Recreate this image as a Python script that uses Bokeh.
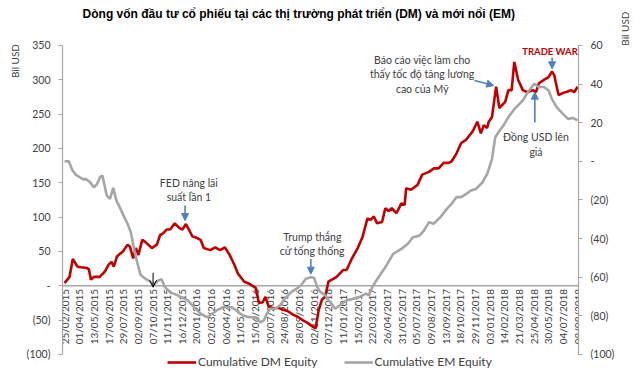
import math
from bokeh.plotting import figure
from bokeh.models import (Range1d, LinearAxis, FixedTicker, Legend, LegendItem,
                          Label, Arrow, NormalHead, OpenHead, Span, ColumnDataSource)
from bokeh.embed import file_html
from bokeh.resources import INLINE
from bokeh.core.properties import value

# ---------------- data ----------------
date_labels = ["25/02/2015", "01/04/2015", "13/05/2015", "17/06/2015", "29/07/2015",
               "02/09/2015", "07/10/2015", "11/11/2015", "16/12/2015", "20/01/2016",
               "02/03/2016", "06/04/2016", "11/05/2016", "15/06/2016", "20/07/2016",
               "24/08/2016", "28/09/2016", "02/11/2016", "07/12/2016", "11/01/2017",
               "15/02/2017", "22/03/2017", "26/04/2017", "31/05/2017", "05/07/2017",
               "09/08/2017", "13/09/2017", "18/10/2017", "29/11/2017", "03/01/2018",
               "14/02/2018", "21/03/2018", "25/04/2018", "30/05/2018", "04/07/2018",
               "08/08/2018"]
label_every = 5  # one date label every 5 weekly observations
tick_idx = [i * label_every for i in range(len(date_labels))]

# Cumulative DM Equity (left axis, Bil USD), by week index
dm_week = [0, 1.7, 2.8, 4.4, 5.5, 7.7, 8.3, 9.0, 10, 12, 13.8, 14.9, 16, 16.8, 17.9, 19.9,
           21.5, 22.3, 23.4, 24.3, 25.2, 26.5, 27.5, 29.8, 31.5, 32.6, 33.5, 34.8, 36, 37.6,
           39.2, 40.2, 41.4, 42.4, 43.6, 45, 46.4, 47.5, 49.7, 51.4, 53, 54.7, 56.3, 58,
           59.1, 61.3, 63, 65.2, 66.3, 67.6, 68.5, 69.6, 71.3, 72.9, 74.6, 76.2, 77.9, 79.5,
           81.2, 82.9, 84.5, 85.6, 86.7, 87.8, 88.9, 90, 91.2, 92.8, 95, 96.2, 97.8, 100,
           101.7, 103.3, 104.4, 105.5, 106.6, 108.3, 109.4, 110.5, 111.6, 113.2, 114.9, 116,
           116.5, 118.2, 120.4, 122, 124.3, 126, 127.6, 129.3, 131, 132, 133.7, 135.3, 137,
           139.2, 140.8, 142, 143, 144.1, 144.7, 145.8, 147.2, 148.3, 150.3, 151.4, 152.5,
           153.4, 154.7, 156.3, 157.9, 159.7, 160.8, 161.8, 163.5, 165.1, 166.2, 167, 168.5,
           170.1, 171.6, 172.7, 173.8, 175]
dm_val = [4, 13, 39, 28, 27, 26, 24, 9, 13, 13, 21, 30, 35, 28, 43, 50,
          60, 57, 40, 55, 45, 67, 64, 55, 60, 74, 76, 82, 82, 91,
          84, 82, 90, 82, 72, 70, 67, 55, 52, 56, 52, 56, 45, 30,
          18, 6, 3, -3, -25, -24, -16, -30, -33, -32, -35, -37, -42, -45,
          -50, -54, -59, -62, -35, -20, -16, 6, 9, 13, 23, 23, 38, 55,
          72, 98, 96, 101, 91, 93, 113, 109, 113, 106, 120, 118,
          142, 140, 147, 162, 166, 171, 171, 179, 179, 181, 193, 208, 213,
          225, 239, 222, 234, 230, 239, 246, 290, 259, 268, 285, 285,
          326, 300, 285, 282, 285, 282, 295, 300, 304, 312, 307, 278,
          281, 283, 285, 282, 290]

# Cumulative EM Equity (right axis, Bil USD), by week index
em_week = [0, 1.5, 2.6, 3.9, 5.5, 6.6, 7.2, 8.8, 10, 11, 12.2, 12.9, 14.4, 15.5, 16.6, 17.7,
           18.8, 20.4, 21.5, 22.6, 23.8, 24.9, 26, 27.6, 28.7, 30.4, 32, 33.1, 34.2, 35.9,
           37.5, 39.8, 42, 44.2, 46.4, 48.6, 50.3, 51.9, 54.1, 56.9, 58.6, 60.8, 63, 65.2,
           66.8, 67.9, 69, 70.1, 71.8, 73.5, 75.1, 77.3, 79, 80.6, 82.3, 84, 85.1, 86.2,
           87.3, 89, 90.6, 92.3, 93.9, 96.1, 98.3, 100.5, 102.8, 103.8, 105, 106, 109.4,
           112.1, 114.9, 117.1, 118.8, 121, 122.6, 124.3, 125.9, 128.2, 130.4, 132, 133.7,
           135.3, 137, 138.6, 140.3, 142.6, 144.2, 145.8, 146.9, 148, 149.7, 151.4, 153.5,
           154.6, 156.3, 158, 160.2, 161.8, 163.5, 165.1, 166.2, 167.9, 170, 171.7, 173.3,
           175]
em_val = [0, 0, -4.5, -7, -8.5, -9.5, -9, -11, -13.4, -12, -8, -7.3, -17.7, -19.4, -13.7, -20.3,
          -23.7, -29, -32.3, -36.7, -46, -53, -59, -60.8, -61.7, -63.8, -61.7, -61, -65, -67.7,
          -68.6, -70.3, -72, -75.5, -78.9, -80.7, -78.9, -77.2, -75.5, -75.5, -77.2, -79.8, -80.7, -80.7,
          -83.3, -82.5, -78.9, -76.3, -76.3, -74.6, -71.2, -67.7, -66, -64.3, -60.8, -60, -60.3, -65.1,
          -67.7, -69.4, -72.9, -76.3, -74.6, -72, -71.2, -70.3, -68.5, -69.4, -65, -62.5, -54.8,
          -47.9, -45.3, -42.7, -39.3, -38.5, -35.8, -31.5, -32.3, -28.9, -24.6, -22, -18.5,
          -18.5, -16.8, -15.1, -14.3, -10.8, -6.4, 1.3, 12.5, 15.1, 18.6, 22.9, 27.2,
          28.9, 31.5, 35.8, 40.2, 38.5, 38.5, 36.7, 32.4, 28, 24.6, 22, 22.5,
          21.2]

left_ticks = [-100, -50, 0, 50, 100, 150, 200, 250, 300, 350]
left_tick_text = ["(100)", "(50)", "-", "50", "100", "150", "200", "250", "300", "350"]
right_ticks = [-100, -80, -60, -40, -20, 0, 20, 40, 60]
right_tick_text = ["(100)", "(80)", "(60)", "(40)", "(20)", "-", "20", "40", "60"]
unit_text = "Bil USD"

title_text = "Dòng vốn đầu tư cổ phiếu tại các thị trường phát triển (DM) và mới nổi (EM)"
series_names = ["Cumulative DM Equity", "Cumulative EM Equity"]

# ---------------- styles ----------------
RED = "#C00000"
GREY = "#A6A6A6"
BLUE = "#4F81BD"
TXT = "#404040"
FONT = "Lato"

# frame fills the full height; the axes are bounded to the value span
p = figure(width=640, height=374, output_backend="svg", toolbar_location=None,
           x_range=Range1d(-0.7, 175.3), y_range=Range1d(-129.13, 415.53),
           min_border_left=58, min_border_right=52, min_border_top=0, min_border_bottom=0)
p.xaxis.visible = False
p.yaxis.visible = False
p.extra_y_ranges = {"em": Range1d(-110.36, 83.30)}
p.outline_line_color = None
p.xgrid.visible = False
p.ygrid.visible = False
p.background_fill_color = "white"
p.border_fill_color = "white"

def style_axis(ax):
    ax.axis_line_color = GREY
    ax.axis_line_width = 1.2
    ax.major_tick_line_color = GREY
    ax.major_tick_out = 4
    ax.major_tick_in = 0
    ax.minor_tick_out = 0
    ax.minor_tick_in = 0
    ax.major_label_standoff = 8
    ax.major_label_text_font = FONT
    ax.major_label_text_font_size = "10.5px"
    ax.major_label_text_color = TXT

left_ax = LinearAxis(ticker=FixedTicker(ticks=left_ticks), bounds=(left_ticks[0], left_ticks[-1]),
                     major_label_overrides=dict(zip(left_ticks, left_tick_text)))
style_axis(left_ax)
p.add_layout(left_ax, "left")

right_ax = LinearAxis(y_range_name="em", ticker=FixedTicker(ticks=right_ticks),
                      bounds=(right_ticks[0], right_ticks[-1]),
                      major_label_overrides=dict(zip(right_ticks, right_tick_text)))
style_axis(right_ax)
p.add_layout(right_ax, "right")

# "Bil USD" unit captions near the top of each value axis
def unit_axis(range_name, at):
    ax = LinearAxis(y_range_name=range_name, ticker=FixedTicker(ticks=[at]),
                    major_label_overrides={at: unit_text},
                    major_label_orientation=math.pi / 2)
    ax.axis_line_color = None
    ax.major_tick_line_color = None
    ax.minor_tick_line_color = None
    ax.major_label_standoff = 2
    ax.major_label_text_font = FONT
    ax.major_label_text_font_size = "10px"
    ax.major_label_text_color = TXT
    return ax

p.add_layout(unit_axis("default", 352.1), "left")
p.add_layout(unit_axis("em", 71.4), "right")

# zero line acting as the category axis
p.add_layout(Span(location=0, dimension="width", line_color=GREY, line_width=1.5,
                  level="underlay"))

# date labels hanging under the zero line
date_src = ColumnDataSource(dict(x=tick_idx, y=[0] * len(tick_idx), t=date_labels))
p.text(x="x", y="y", text="t", source=date_src, angle=math.pi / 2,
       text_align="right", text_baseline="middle", y_offset=3,
       text_font=value(FONT), text_font_size="10px", text_color=TXT)

r_dm = p.line(dm_week, dm_val, line_color=RED, line_width=2.6)
r_em = p.line(em_week, em_val, y_range_name="em", line_color=GREY, line_width=2.6)

legend = Legend(items=[LegendItem(label=series_names[0], renderers=[r_dm]),
                       LegendItem(label=series_names[1], renderers=[r_em])],
                orientation="horizontal", location=(105, 5), padding=0, margin=0,
                spacing=26, glyph_width=29, glyph_height=14, label_height=14,
                label_standoff=2, label_text_font=FONT, label_text_font_size="12px",
                label_text_color=TXT, border_line_color=None, background_fill_alpha=0)
p.add_layout(legend)

# chart title (inside the tall frame, above the value span)
p.add_layout(Label(x=79.9, y=396.5, text=title_text, text_align="center",
                   text_baseline="middle", text_font="Liberation Sans",
                   text_font_style="bold", text_font_size="12px", text_color="black"))

# annotations (week index, left-axis value)
notes = [
    (42.4, 159, "FED nâng lãi\nsuất lần 1"),
    (84.5, 80, "Trump thắng\ncử tống thống"),
    (122, 338, "Báo cáo việc làm cho\nthấy tốc độ tăng lương\ncao của Mỹ"),
    (160.8, 225, "Đồng USD lên\ngiá"),
]
for nx, ny, nt in notes:
    p.add_layout(Label(x=nx, y=ny, text=nt, text_align="center", text_baseline="top",
                       text_font=FONT, text_font_size="10.5px", text_color=TXT,
                       text_line_height=1.2))
p.add_layout(Label(x=165.6, y=341, text="TRADE WAR", text_align="center",
                   text_baseline="middle", text_font=FONT, text_font_style="bold",
                   text_font_size="9.5px", text_color=RED))

blue_arrows = [
    (41.1, 117, 41.1, 95),
    (84, 39, 84, 17),
    (139.8, 299, 146.4, 291.7),
    (166.3, 332.5, 166.3, 316),
    (160.4, 238, 160.4, 282),
]
for xs, ys, xe, ye in blue_arrows:
    p.add_layout(Arrow(x_start=xs, y_start=ys, x_end=xe, y_end=ye,
                       line_color=BLUE, line_width=1.6,
                       end=NormalHead(size=7, fill_color=BLUE, line_color=BLUE)))
p.add_layout(Arrow(x_start=30.2, y_start=19, x_end=30.2, y_end=-2,
                   line_color="black", line_width=1,
                   end=OpenHead(size=7, line_color="black", line_width=1)))

open("out.html", "w").write(file_html(p, INLINE))
